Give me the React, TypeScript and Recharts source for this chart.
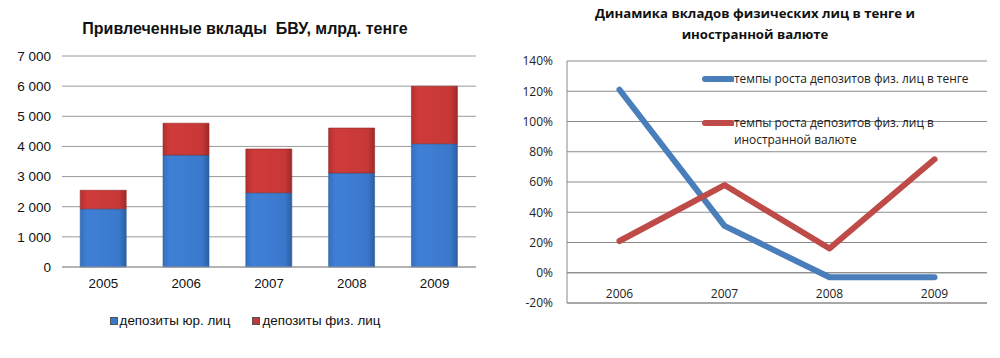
import React from 'react'
import {
  BarChart,
  Bar,
  LineChart,
  Line,
  XAxis,
  YAxis,
  CartesianGrid,
  ReferenceLine,
} from 'recharts'

const years = ['2005', '2006', '2007', '2008', '2009']
const legalDeposits = [1930, 3715, 2465, 3120, 4090]
const personDeposits = [615, 1055, 1450, 1490, 1910]
const barTicks = [0, 1000, 2000, 3000, 4000, 5000, 6000, 7000]

const growthYears = ['2006', '2007', '2008', '2009']
const tengeGrowth = [121, 31, -3, -3]
const foreignGrowth = [21, 58, 16, 75]
const pctTicks = [-20, 0, 20, 40, 60, 80, 100, 120, 140]

const barRows = years.map((y, i) => ({
  year: y,
  legal: legalDeposits[i],
  person: personDeposits[i],
}))

const lineRows = growthYears.map((y, i) => ({
  year: y,
  tenge: tengeGrowth[i],
  foreign: foreignGrowth[i],
}))

const BLUE = '#4a7ebb'
const RED = '#be4b48'
const ARIAL = '"Liberation Sans", Arial, sans-serif'
const CALIBRI = '"Open Sans", sans-serif'

const fmtThousands = (v: number) =>
  String(v).replace(/\B(?=(\d{3})+(?!\d))/g, ' ')

function BarLegend() {
  const items = [
    { label: 'депозиты юр. лиц', color: '#3a76c9' },
    { label: 'депозиты физ. лиц', color: '#c0393b' },
  ]
  return (
    <div style={{ display: 'flex', justifyContent: 'center', gap: 22, fontFamily: ARIAL, fontSize: 13.4, color: '#111' }}>
      {items.map((it) => (
        <span key={it.label} style={{ display: 'flex', alignItems: 'center' }}>
          <span style={{ width: 6, height: 6, background: it.color, marginRight: 2, border: '0.5px solid #555' }} />
          {it.label}
        </span>
      ))}
    </div>
  )
}

function LineLegend() {
  const items = [
    { label: 'темпы роста депозитов физ. лиц в тенге', color: BLUE },
    { label: 'темпы роста депозитов физ. лиц в иностранной валюте', color: RED },
  ]
  return (
    <div style={{ fontFamily: CALIBRI, fontSize: 11.9, color: '#222', lineHeight: '17px' }}>
      {items.map((it, i) => (
        <div key={it.label} style={{ display: 'flex', alignItems: 'flex-start', marginBottom: i === 0 ? 27 : 0 }}>
          <svg width={32} height={17} style={{ flex: 'none' }}>
            <line x1={3} y1={9} x2={30} y2={9} stroke={it.color} strokeWidth={6} strokeLinecap="round" />
          </svg>
          <span style={{ width: 240 }}>{it.label}</span>
        </div>
      ))}
    </div>
  )
}

// category labels sit between the 0% line and the bottom of the plot, like in Excel
function YearTick(props: any) {
  const { x, y, payload } = props
  return (
    <text x={x} y={y - 13} textAnchor="middle" fontFamily={CALIBRI} fontSize={12} fill="#222">
      {payload.value}
    </text>
  )
}

export default function App() {
  return (
    <div style={{ position: 'absolute', left: 0, top: 0, width: 1000, height: 358, background: '#fff' }}>
      <div style={{ position: 'absolute', left: 0, top: 0, width: 490, height: 358 }}>
        <div
          style={{
            position: 'absolute',
            left: 0,
            top: 20,
            width: 490,
            textAlign: 'center',
            fontFamily: ARIAL,
            fontWeight: 'bold',
            fontSize: 16,
            color: '#111',
            whiteSpace: 'pre',
          }}
        >
          {'Привлеченные вклады  БВУ, млрд. тенге'}
        </div>
        <BarChart width={490} height={358} data={barRows} margin={{ top: 56, right: 14, bottom: 61, left: 0 }} barCategoryGap="22%">
          <defs>
            <linearGradient id="gBlue" x1="0" y1="0" x2="1" y2="0">
              <stop offset="0" stopColor="#3470c0" />
              <stop offset="0.15" stopColor="#3f80d6" />
              <stop offset="0.85" stopColor="#3a78cc" />
              <stop offset="1" stopColor="#2c5f9f" />
            </linearGradient>
            <linearGradient id="gRed" x1="0" y1="0" x2="1" y2="0">
              <stop offset="0" stopColor="#b3302f" />
              <stop offset="0.15" stopColor="#cf3b3a" />
              <stop offset="0.85" stopColor="#c63837" />
              <stop offset="1" stopColor="#9e2a29" />
            </linearGradient>
          </defs>
          <CartesianGrid vertical={false} stroke="#9a9a9a" />
          <XAxis
            dataKey="year"
            axisLine={{ stroke: '#9a9a9a' }}
            tickLine={false}
            tickMargin={6}
            tick={{ fontFamily: ARIAL, fontSize: 13.3, fill: '#111' }}
          />
          <YAxis
            width={62}
            domain={[0, 7000]}
            ticks={barTicks}
            interval={0}
            tickFormatter={fmtThousands}
            axisLine={false}
            tickLine={false}
            tickMargin={5}
            tick={{ fontFamily: ARIAL, fontSize: 13.5, fill: '#111' }}
          />
          <Bar dataKey="legal" stackId="a" fill="url(#gBlue)" stroke="#2d5e9e" strokeWidth={0.6} isAnimationActive={false} />
          <Bar dataKey="person" stackId="a" fill="url(#gRed)" stroke="#8f2a29" strokeWidth={0.6} isAnimationActive={false} />
        </BarChart>
        <div style={{ position: 'absolute', top: 313, left: 0, width: 490 }}>
          <BarLegend />
        </div>
      </div>

      <div style={{ position: 'absolute', left: 490, top: 0, width: 510, height: 358 }}>
        <div
          style={{
            position: 'absolute',
            left: 0,
            top: 3,
            width: 530,
            textAlign: 'center',
            fontFamily: CALIBRI,
            fontWeight: 'bold',
            fontSize: 13.2,
            lineHeight: '21px',
            color: '#111',
          }}
        >
          Динамика вкладов физических лиц в тенге и
          <br />
          иностранной валюте
        </div>
        <LineChart width={510} height={358} data={lineRows} margin={{ top: 61, right: 13, bottom: 25, left: 0 }}>
          <CartesianGrid vertical={false} stroke="#8a8a8a" />
          <XAxis
            dataKey="year"
            scale="band"
            axisLine={{ stroke: '#8a8a8a' }}
            tickLine={false}
            tick={<YearTick />}
          />
          <YAxis
            width={77}
            domain={[-20, 140]}
            ticks={pctTicks}
            interval={0}
            tickFormatter={(v: number) => `${v}%`}
            axisLine={{ stroke: '#8a8a8a' }}
            tickLine={false}
            tickMargin={8}
            tick={{ fontFamily: CALIBRI, fontSize: 12, fill: '#222' }}
          />
          <ReferenceLine y={0} stroke="#8a8a8a" />
          <Line dataKey="tenge" stroke={BLUE} strokeWidth={6} dot={false} strokeLinecap="round" strokeLinejoin="round" isAnimationActive={false} />
          <Line dataKey="foreign" stroke={RED} strokeWidth={6} dot={false} strokeLinecap="round" strokeLinejoin="round" isAnimationActive={false} />
        </LineChart>
        <div style={{ position: 'absolute', top: 70, left: 212, width: 290 }}>
          <LineLegend />
        </div>
      </div>
    </div>
  )
}
